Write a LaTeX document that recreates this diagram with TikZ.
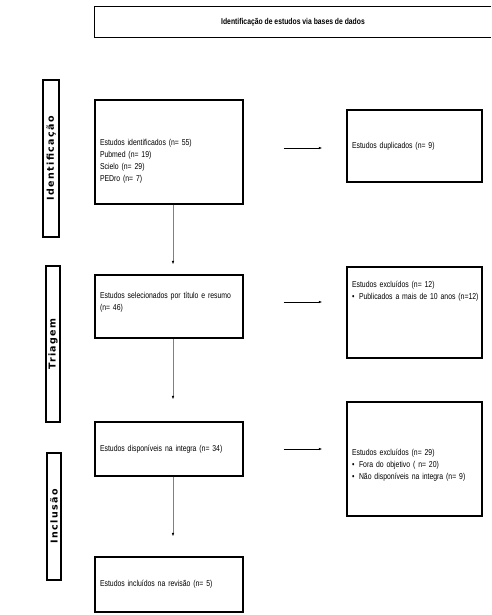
\documentclass[tikz,border=0pt]{standalone}
\usepackage{fontspec}
\setmainfont{Liberation Sans}[FakeStretch=0.8]
\newfontfamily\phasefont{DejaVu Sans}[LetterSpace=15]
\usepackage{xcolor}
\usetikzlibrary{shapes,arrows.meta,positioning}

\begin{document}
\begin{tikzpicture}[x=1pt,y=-1pt,
  box/.style={draw, line width=1.2pt, rectangle, align=left,
    font=\fontsize{8.6}{12}\selectfont, inner xsep=5pt, inner ysep=0pt},
  mainbox/.style={box, text width=138pt, minimum width=148pt},
  sidebox/.style={box, inner xsep=3pt, text width=129pt, minimum width=135pt},
  phase/.style={draw, line width=1.2pt, rotate=90, inner sep=0pt,
    font=\phasefont\bfseries\fontsize{9.5}{11}\selectfont},
  vline/.style={draw=gray, line width=0.6pt,
    -{Latex[length=3.5pt,width=2.5pt,color=black]}},
  hline/.style={draw=black, line width=0.7pt,
    -{Latex[length=3.5pt,width=2.5pt]}}]
\useasboundingbox (0,0) rectangle (491,615);

% Title: Identificacao de estudos
\node[minimum width=396pt, minimum height=30pt, inner sep=0pt,
  font=\bfseries\fontsize{8.5}{10}\selectfont] (title) at (293,22)
  {Identificação de estudos via bases de dados};
\draw[line width=1.2pt] (title.north east) -- (title.north west)
  -- (title.south west) -- (title.south east);

% Phase labels
\node[phase, minimum width=157pt, minimum height=16pt] (phident) at (51,158.5) {Identificação};
\node[phase, minimum width=156pt, minimum height=14pt] (phtriag) at (53,344) {Triagem};
\node[phase, minimum width=127pt, minimum height=14pt] (phincl) at (54,516.5) {Inclusão};

% Box 1: Estudos identificados
\node[mainbox, minimum height=104pt, text depth=20pt] (ident) at (169,152)
  {Estudos identificados (n= 55)\\ Pubmed (n= 19)\\ Scielo (n= 29)\\ PEDro (n= 7)};
% Box 2: Estudos selecionados
\node[mainbox, minimum height=63pt, text depth=23pt] (selec) at (169,306.5)
  {\makebox[138pt][s]{Estudos selecionados por título e resumo}\\ (n= 46)};
% Box 3: Estudos disponiveis
\node[mainbox, minimum height=54pt] (dispo) at (169,449)
  {Estudos disponíveis na integra (n= 34)};
% Box 4: Estudos incluidos
\node[mainbox, minimum height=55pt] (inclu) at (169,584.5)
  {Estudos incluídos na revisão (n= 5)};

% Side boxes
\node[sidebox, minimum height=72pt] (dupli) at (414.5,146)
  {\hspace*{2pt}Estudos duplicados (n= 9)};
\node[sidebox, minimum height=91pt, text depth=57pt] (exclA) at (414.5,312.5)
  {\hspace*{2pt}Estudos excluídos (n= 12)\\
   \mbox{\hspace*{2pt}\makebox[7pt][l]{•}Publicados a mais de 10 anos (n=12)}};
\node[sidebox, minimum height=114pt, text depth=14pt] (exclB) at (414.5,459)
  {\hspace*{2pt}Estudos excluídos (n= 29)\\
   \mbox{\hspace*{2pt}\makebox[7pt][l]{•}Fora do objetivo ( n= 20)}\\
   \mbox{\hspace*{2pt}\makebox[7pt][l]{•}Não disponíveis na integra (n= 9)}};

% Arrows down
\draw[vline, shorten >=10pt] ([xshift=4pt]ident.south) -- ([xshift=4pt]selec.north);
\draw[vline, shorten >=22pt] ([xshift=4pt]selec.south) -- ([xshift=4pt]dispo.north);
\draw[vline, shorten >=20pt] ([xshift=4pt]dispo.south) -- ([xshift=4pt]inclu.north);
% Arrows right
\draw[hline, shorten <=40pt, shorten >=24pt] ([yshift=-2pt]dupli.west -| ident.east) -- ([yshift=-2pt]dupli.west);
\draw[hline, shorten <=40pt, shorten >=24pt] ([yshift=4.5pt]selec.east) -- ([yshift=4.5pt]selec.east -| exclA.west);
\draw[hline, shorten <=40pt, shorten >=24pt] (dispo.east) -- (dispo.east -| exclB.west);
\end{tikzpicture}
\end{document}
